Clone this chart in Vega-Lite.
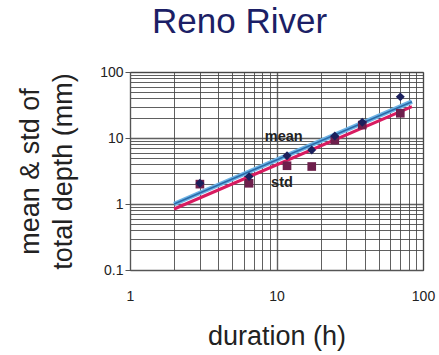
{
  "$schema": "https://vega.github.io/schema/vega-lite/v6.json",
  "autosize": {"type": "none"},
  "width": 293,
  "height": 198,
  "padding": {"left": 130, "top": 72, "right": 16, "bottom": 85},
  "background": "white",
  "title": {
    "text": "Reno River",
    "fontSize": 35,
    "font": "Liberation Sans",
    "fontWeight": "normal",
    "color": "#1c1f66",
    "anchor": "start",
    "frame": "group",
    "dx": 22,
    "offset": 25
  },
  "config": {
    "view": {"stroke": "#555555", "strokeWidth": 1},
    "font": "Liberation Sans"
  },
  "datasets": {
    "points": [
      {"duration": 3, "value": 2.06, "stat": "mean"},
      {"duration": 6.5, "value": 2.6, "stat": "mean"},
      {"duration": 11.8, "value": 5.4, "stat": "mean"},
      {"duration": 17.4, "value": 6.6, "stat": "mean"},
      {"duration": 25, "value": 10.7, "stat": "mean"},
      {"duration": 38.5, "value": 17.3, "stat": "mean"},
      {"duration": 70, "value": 42, "stat": "mean"},
      {"duration": 3, "value": 2.0, "stat": "std"},
      {"duration": 6.5, "value": 2.06, "stat": "std"},
      {"duration": 11.8, "value": 3.8, "stat": "std"},
      {"duration": 17.4, "value": 3.7, "stat": "std"},
      {"duration": 25, "value": 9.3, "stat": "std"},
      {"duration": 38.5, "value": 15.7, "stat": "std"},
      {"duration": 70, "value": 23.7, "stat": "std"}
    ],
    "fits": [
      {"duration": 2, "value": 1.0, "stat": "mean"},
      {"duration": 84, "value": 35.5, "stat": "mean"},
      {"duration": 2, "value": 0.84, "stat": "std"},
      {"duration": 84, "value": 29.8, "stat": "std"}
    ],
    "labels": [
      {"duration": 11.2, "value": 10.3, "text": "mean"},
      {"duration": 10.9, "value": 2.1, "text": "std"}
    ]
  },
  "encoding": {
    "x": {
      "field": "duration",
      "type": "quantitative",
      "scale": {"type": "log", "domain": [1, 100]},
      "axis": {
        "title": "duration (h)",
        "titleFontSize": 27,
        "titleFontWeight": "normal",
        "titleColor": "#222222",
        "titlePadding": 20,
        "values": [1,2,3,4,5,6,7,8,9,10,20,30,40,50,60,70,80,90,100],
        "labelExpr": "indexof([1,10,100], datum.value) >= 0 ? format(datum.value, '~g') : ''",
        "labelFontSize": 14,
        "labelColor": "#222222",
        "labelPadding": 19,
        "labelOverlap": false,
        "labelBound": false,
        "labelFlush": false,
        "tickSize": 0,
        "domainColor": "#555555",
        "grid": true,
        "gridColor": "#444444",
        "gridOpacity": 0.85,
        "gridWidth": {"condition": {"test": "indexof([1,10,100], datum.value) >= 0", "value": 1.4}, "value": 1}
      }
    },
    "y": {
      "field": "value",
      "type": "quantitative",
      "scale": {"type": "log", "domain": [0.1, 100]},
      "axis": {
        "title": ["mean & std of", "total depth (mm)"],
        "titleFontSize": 27,
        "titleFontWeight": "normal",
        "titleColor": "#222222",
        "titleLineHeight": 33,
        "titlePadding": 22,
        "values": [0.1,0.2,0.3,0.4,0.5,0.6,0.7,0.8,0.9,1,2,3,4,5,6,7,8,9,10,20,30,40,50,60,70,80,90,100],
        "labelExpr": "indexof([0.1,1,10,100], datum.value) >= 0 ? format(datum.value, '~g') : ''",
        "labelFontSize": 14,
        "labelColor": "#222222",
        "labelPadding": 2,
        "labelOverlap": false,
        "labelBound": false,
        "labelFlush": false,
        "tickSize": {"condition": {"test": "indexof([0.1,1,10,100], datum.value) >= 0", "value": 5}, "value": 0},
        "tickColor": "#555555",
        "domainColor": "#555555",
        "grid": true,
        "gridColor": "#444444",
        "gridOpacity": 0.85,
        "gridWidth": {"condition": {"test": "indexof([0.1,1,10,100], datum.value) >= 0", "value": 1.4}, "value": 1}
      }
    }
  },
  "layer": [
    {
      "data": {"name": "fits"},
      "transform": [{"filter": "datum.stat == 'mean'"}],
      "mark": {"type": "line", "color": "#6db3e6", "strokeWidth": 4.5}
    },
    {
      "data": {"name": "fits"},
      "transform": [{"filter": "datum.stat == 'mean'"}],
      "mark": {"type": "line", "color": "#2a6aa8", "strokeWidth": 1.6}
    },
    {
      "data": {"name": "fits"},
      "transform": [{"filter": "datum.stat == 'std'"}],
      "mark": {"type": "line", "color": "#d81b60", "strokeWidth": 3}
    },
    {
      "data": {"name": "points"},
      "transform": [{"filter": "datum.stat == 'std'"}],
      "mark": {"type": "point", "shape": "square", "filled": true, "size": 75, "color": "#6e1f4c", "opacity": 1}
    },
    {
      "data": {"name": "points"},
      "transform": [{"filter": "datum.stat == 'mean'"}],
      "mark": {"type": "point", "shape": "diamond", "filled": true, "size": 80, "color": "#1b1f5c", "opacity": 1}
    },
    {
      "data": {"name": "labels"},
      "mark": {"type": "text", "fontSize": 14.5, "fontWeight": "bold", "color": "#222222", "font": "Liberation Sans"},
      "encoding": {"text": {"field": "text"}}
    }
  ]
}
